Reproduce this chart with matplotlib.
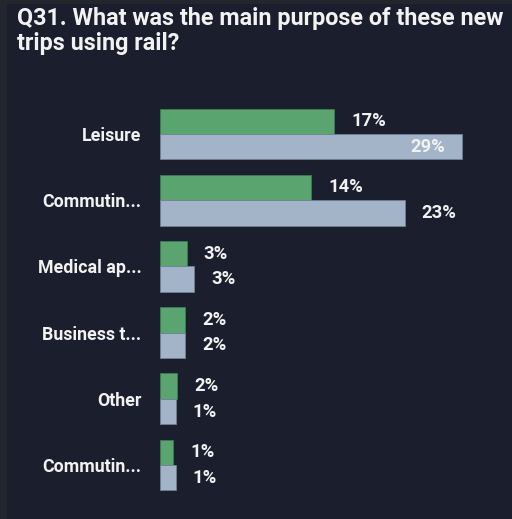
import matplotlib
matplotlib.use("Agg")
import matplotlib.pyplot as plt
from matplotlib.patches import Rectangle

# Survey results: share of new rail trips by main purpose
categories = ["Leisure", "Commutin...", "Medical ap...", "Business t...", "Other", "Commutin..."]
series_a = [16.6, 14.4, 2.55, 2.38, 1.65, 1.27]   # green series
series_b = [28.8, 23.3, 3.27, 2.38, 1.49, 1.49]   # grey-blue series
title = "Q31. What was the main purpose of these new\ntrips using rail?"

BG = "#1a1e2d"
STRIP = "#24262d"
GREEN = "#59a46f"
GREY = "#a3b4c9"
TEXT = "#f2f2f2"
FONT = ["Roboto", "DejaVu Sans"]
WEIGHT = "bold"

W, H = 512, 519
fig = plt.figure(figsize=(W / 100, H / 100), dpi=100, facecolor=BG)

# thin frame strips along the left and top edges
fig.patches.append(Rectangle((0, 0), 6 / W, 1, transform=fig.transFigure, color=STRIP, zorder=0))
fig.patches.append(Rectangle((0, 1 - 3 / H), 1, 3 / H, transform=fig.transFigure, color=STRIP, zorder=0))

fig.text(17 / W, 1 - 7 / H, title, ha="left", va="top", color=TEXT,
         fontsize=16.8, fontweight=WEIGHT, family=FONT, linespacing=1.12)

ax_left, ax_right = 160, 475
ax_top, ax_bottom = 100, 500
ax = fig.add_axes([ax_left / W, 1 - ax_bottom / H, (ax_right - ax_left) / W, (ax_bottom - ax_top) / H])
ax.set_facecolor(BG)
xmax = 30
ax.set_xlim(0, xmax)
unit = 66.2
ax.set_ylim(5 + (ax_bottom - 465) / unit, -(134 - ax_top) / unit)
for s in ax.spines.values():
    s.set_visible(False)
ax.set_xticks([])
ax.set_yticks(range(len(categories)))
ax.set_yticklabels(categories, color=TEXT, fontsize=12.8, fontweight=WEIGHT, family=FONT)
ax.tick_params(axis="y", length=0, pad=13.5)

h = 0.385
ys = list(range(len(categories)))
ax.barh([y - h for y in ys], series_a, height=h, align="edge", color=GREEN,
        edgecolor="#3f7d54", linewidth=0.6)
ax.barh(ys, series_b, height=h, align="edge", color=GREY,
        edgecolor="#6f8196", linewidth=0.6)

pad = 12.2  # points
for y, a, b in zip(ys, series_a, series_b):
    for v, yc in ((a, y - h / 2), (b, y + h / 2)):
        label = f"{v:.0f}%"
        inside = v > xmax - 4
        ax.annotate(label, (v, yc), xytext=(-pad if inside else pad, 0),
                    textcoords="offset points", ha="right" if inside else "left",
                    va="center", color=TEXT, fontsize=13.2, fontweight=WEIGHT,
                    family=FONT)

fig.savefig("out.png", dpi=100, facecolor=BG)
